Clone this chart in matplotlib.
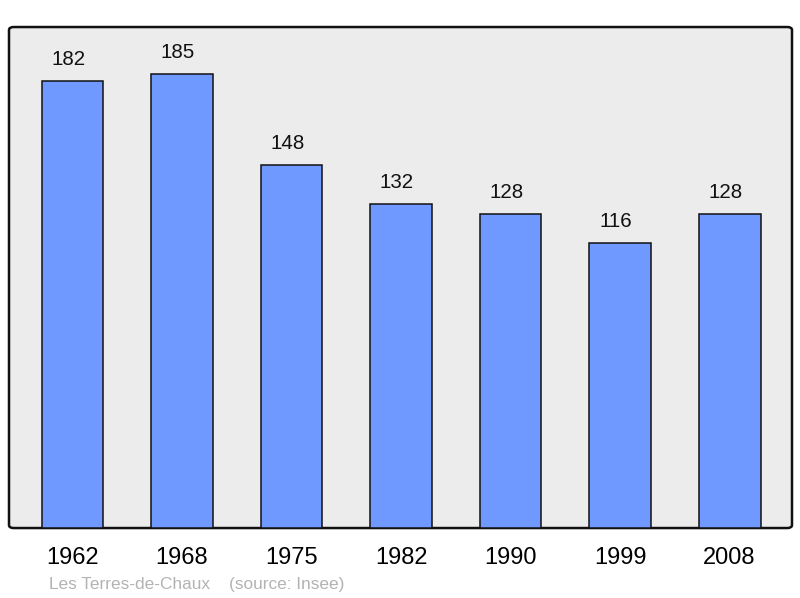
import matplotlib
matplotlib.use("Agg")
import matplotlib.pyplot as plt
from matplotlib.patches import FancyBboxPatch

years = ["1962", "1968", "1975", "1982", "1990", "1999", "2008"]
population = [182, 185, 148, 132, 128, 116, 128]

plt.rcParams['font.family'] = ['Liberation Sans', 'DejaVu Sans']

fig = plt.figure(figsize=(8, 5.98), dpi=100)
ax = fig.add_axes([0.01125, 0.117, 0.97875, 0.8378])
ax.set_xlim(-0.58, 6.57)
ax.set_ylim(0, 204)
ax.set_facecolor('none')
for s in ax.spines.values():
    s.set_visible(False)

bg = FancyBboxPatch((0, 0), 1, 1, boxstyle="round,pad=0,rounding_size=0.006",
                    transform=ax.transAxes, facecolor='#ececec', edgecolor='#111111',
                    linewidth=1.8, zorder=0, clip_on=False)
ax.add_patch(bg)

x = list(range(len(years)))
bars = ax.bar(x, population, width=0.565, color='#7099ff', edgecolor='#111111',
              linewidth=1.1, zorder=2)
for xi, v in zip(x, population):
    ax.annotate(str(v), (xi, v), xytext=(-3, 8.5), textcoords='offset points',
                ha='center', va='bottom', fontsize=14.8, color='#111111')

ax.set_xticks(x)
ax.set_xticklabels(years, fontsize=17)
ax.tick_params(axis='x', length=0, pad=14)
ax.set_yticks([])

fig.text(49/800, 1-584/598, "Les Terres-de-Chaux    (source: Insee)", fontsize=12.4,
         color='#b3b3b3', ha='left', va='center')

fig.savefig("out.png", dpi=100)
